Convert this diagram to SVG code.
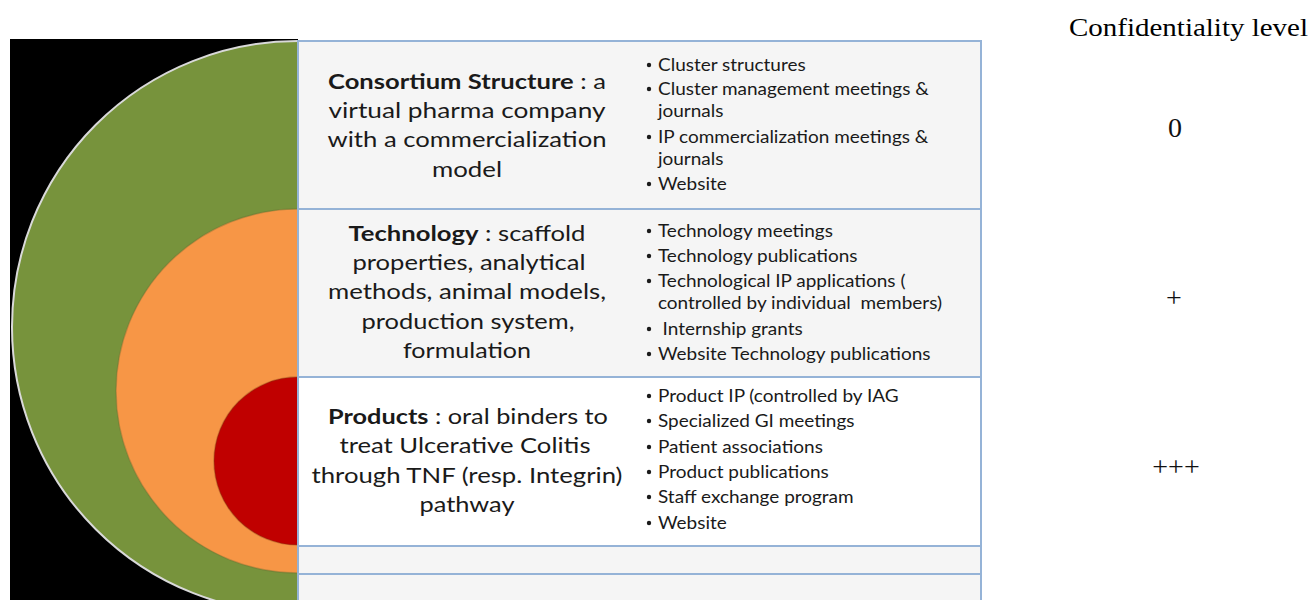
<svg xmlns="http://www.w3.org/2000/svg" width="1312" height="600" viewBox="0 0 1312 600">
  <defs>
    <style>
      .head { font-family: Lato, "Open Sans", "Liberation Sans", sans-serif; font-size: 21.5px; fill: #1a1a1a; text-anchor: middle; }
      .head .b { font-weight: bold; }
      .item { font-family: Lato, "Open Sans", "Liberation Sans", sans-serif; font-size: 16.5px; fill: #1a1a1a; }
      .dot { fill: #1a1a1a; }
      .title { font-family: "Liberation Serif", "Times New Roman", serif; font-size: 26px; fill: #000; }
      .level { font-family: "Liberation Serif", "Times New Roman", serif; font-size: 28px; fill: #111; text-anchor: middle; }
      .row { stroke: none; }
      .grid { stroke: #95b3d7; stroke-width: 2; fill: none; }
    </style>
    <clipPath id="leftHalf">
      <rect x="10" y="39" width="288" height="561"/>
    </clipPath>
  </defs>

  <rect width="1312" height="600" fill="#ffffff"/>

  <!-- concentric half-discs on black -->
  <g id="rings" clip-path="url(#leftHalf)">
    <rect x="10" y="39" width="288" height="561" fill="#000000"/>
    <circle cx="298" cy="327" r="286" fill="#77933c" stroke="#d9d9d9" stroke-width="2"/>
    <circle cx="298" cy="391" r="182" fill="#f79646" stroke="#6b6b30" stroke-opacity="0.35" stroke-width="1.5"/>
    <circle cx="298" cy="461" r="84" fill="#c00000" stroke="#7a3a10" stroke-opacity="0.35" stroke-width="1.5"/>
  </g>

  <!-- table rows -->
  <g id="row-consortium">
    <rect class="row" x="298" y="41" width="683" height="168" fill="#f5f5f5"/>
    <text class="head" x="467" y="89" textLength="278" lengthAdjust="spacingAndGlyphs"><tspan class="b">Consortium Structure</tspan> : a</text>
    <text class="head" x="467" y="118" textLength="277" lengthAdjust="spacingAndGlyphs">virtual pharma company</text>
    <text class="head" x="467" y="147" textLength="279" lengthAdjust="spacingAndGlyphs">with a commercialization</text>
    <text class="head" x="467" y="177" textLength="70" lengthAdjust="spacingAndGlyphs">model</text>
    <g class="dot">
      <circle cx="649" cy="65" r="2.2"/>
      <circle cx="649" cy="89" r="2.2"/>
      <circle cx="649" cy="137" r="2.2"/>
      <circle cx="649" cy="184" r="2.2"/>
    </g>
    <g class="item" transform="translate(658 0) scale(1.15 1) translate(-658 0)">
      <text x="658" y="71">Cluster structures</text>
      <text x="658" y="95">Cluster management meetings &amp;</text>
      <text x="658" y="117">journals</text>
      <text x="658" y="143">IP commercialization meetings &amp;</text>
      <text x="658" y="165">journals</text>
      <text x="658" y="190">Website</text>
    </g>
  </g>

  <g id="row-technology">
    <rect class="row" x="298" y="209" width="683" height="168" fill="#f5f5f5"/>
    <text class="head" x="467" y="241" textLength="237" lengthAdjust="spacingAndGlyphs"><tspan class="b">Technology</tspan>  : scaffold</text>
    <text class="head" x="469" y="270" textLength="233" lengthAdjust="spacingAndGlyphs">properties, analytical</text>
    <text class="head" x="467" y="299" textLength="278" lengthAdjust="spacingAndGlyphs">methods, animal models,</text>
    <text class="head" x="468" y="329" textLength="213" lengthAdjust="spacingAndGlyphs">production system,</text>
    <text class="head" x="467" y="358" textLength="128" lengthAdjust="spacingAndGlyphs">formulation</text>
    <g class="dot">
      <circle cx="649" cy="231" r="2.2"/>
      <circle cx="649" cy="256" r="2.2"/>
      <circle cx="649" cy="281" r="2.2"/>
      <circle cx="649" cy="329" r="2.2"/>
      <circle cx="649" cy="354" r="2.2"/>
    </g>
    <g class="item" transform="translate(658 0) scale(1.15 1) translate(-658 0)">
      <text x="658" y="237">Technology meetings</text>
      <text x="658" y="262">Technology publications</text>
      <text x="658" y="287">Technological IP applications (</text>
      <text x="658" y="309" xml:space="preserve">controlled by individual  members)</text>
      <text x="662" y="335">Internship grants</text>
      <text x="658" y="360">Website Technology publications</text>
    </g>
  </g>

  <g id="row-products">
    <rect class="row" x="298" y="377" width="683" height="169" fill="#ffffff"/>
    <text class="head" x="468" y="424" textLength="280" lengthAdjust="spacingAndGlyphs"><tspan class="b">Products</tspan>  : oral binders to</text>
    <text class="head" x="465" y="453" textLength="251" lengthAdjust="spacingAndGlyphs">treat Ulcerative Colitis</text>
    <text class="head" x="467" y="483" textLength="311" lengthAdjust="spacingAndGlyphs">through TNF (resp. Integrin)</text>
    <text class="head" x="467" y="512" textLength="95" lengthAdjust="spacingAndGlyphs">pathway</text>
    <g class="dot">
      <circle cx="649" cy="396" r="2.2"/>
      <circle cx="649" cy="421" r="2.2"/>
      <circle cx="649" cy="447" r="2.2"/>
      <circle cx="649" cy="472" r="2.2"/>
      <circle cx="649" cy="497" r="2.2"/>
      <circle cx="649" cy="523" r="2.2"/>
    </g>
    <g class="item" transform="translate(658 0) scale(1.15 1) translate(-658 0)">
      <text x="658" y="402">Product IP (controlled by IAG</text>
      <text x="658" y="427">Specialized GI meetings</text>
      <text x="658" y="453">Patient associations</text>
      <text x="658" y="478">Product publications</text>
      <text x="658" y="503">Staff exchange program</text>
      <text x="658" y="529">Website</text>
    </g>
  </g>

  <g id="row-blank-1">
    <rect class="row" x="298" y="546" width="683" height="28" fill="#f5f5f5"/>
  </g>
  <g id="row-blank-2">
    <rect class="row" x="298" y="574" width="683" height="26" fill="#f5f5f5"/>
  </g>

  <!-- table rules -->
  <g id="table-grid" class="grid">
    <line x1="298" y1="41" x2="981" y2="41"/>
    <line x1="298" y1="209" x2="981" y2="209"/>
    <line x1="298" y1="377" x2="981" y2="377"/>
    <line x1="298" y1="546" x2="981" y2="546"/>
    <line x1="298" y1="574" x2="981" y2="574"/>
    <line x1="298" y1="40" x2="298" y2="600"/>
    <line x1="981" y1="40" x2="981" y2="600"/>
  </g>

  <!-- confidentiality scale -->
  <g id="confidentiality">
    <text class="title" x="1069" y="36" textLength="239" lengthAdjust="spacingAndGlyphs">Confidentiality level</text>
    <text class="level" x="1175" y="137">0</text>
    <text class="level" x="1174" y="307">+</text>
    <text class="level" x="1176" y="476">+++</text>
  </g>
</svg>
